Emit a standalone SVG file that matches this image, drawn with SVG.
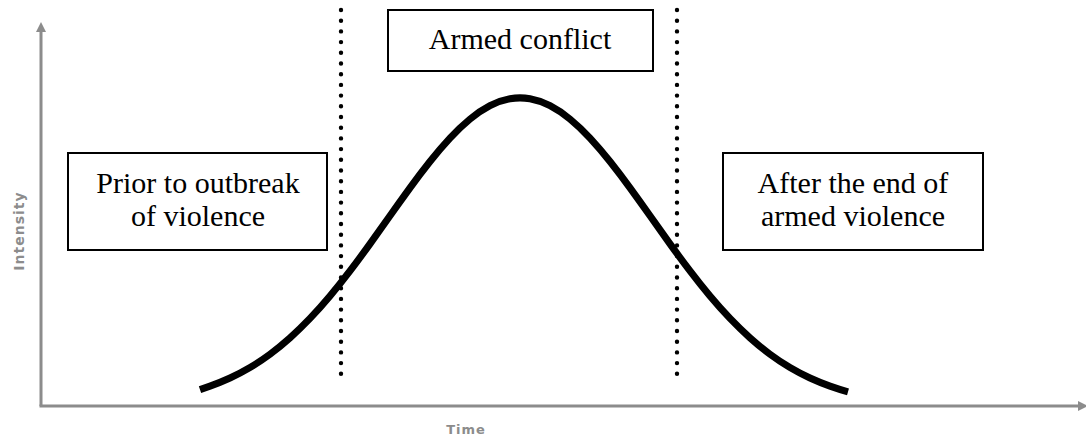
<svg xmlns="http://www.w3.org/2000/svg" width="1086" height="439" viewBox="0 0 1086 439">
<style>
.box{fill:#fff;stroke:#000;stroke-width:2}
.lbl{font-family:"Liberation Serif","Times New Roman",serif;font-size:30px;fill:#000;text-anchor:middle}
.axis{stroke:#8c8c8c;stroke-width:3;fill:none}
.axlbl{font-family:"DejaVu Sans",Verdana,sans-serif;font-weight:bold;fill:#8c8c8c;text-anchor:middle;letter-spacing:1px}
.dot{stroke:#000;stroke-width:4.4;stroke-linecap:round;stroke-dasharray:0 10.7;fill:none}
</style>
<rect width="1086" height="439" fill="#fff"/>
<g id="axes">
<line class="axis" x1="41" y1="406" x2="41" y2="30"/>
<polygon points="41,22 36,32 46,32" fill="#8c8c8c"/>
<line class="axis" x1="39.5" y1="406" x2="1080" y2="406"/>
<polygon points="1088,406 1078,401 1078,411" fill="#8c8c8c"/>
<text class="axlbl" font-size="14" transform="translate(24,231) rotate(-90)">Intensity</text>
<text class="axlbl" font-size="13" x="466" y="434">Time</text>
</g>
<g id="connectors">
<line class="dot" x1="341" y1="10" x2="341" y2="384"/>
<line class="dot" x1="677" y1="10" x2="677" y2="384"/>
<path id="curve" fill="none" stroke="#000" stroke-width="7" stroke-linejoin="round" d="M200,389.6 L210,386.1 Q220,382.6 230,378 Q240,373.4 250,367.5 Q260,361.6 270,354.2 Q280,346.8 290,337.85 Q300,328.9 310,318.45 Q320,308 330,296.05 Q340,284.1 350,270.95 Q360,257.8 370,243.85 Q380,229.9 390,215.75 Q400,201.6 410,187.85 Q420,174.1 430,161.5 Q440,148.9 450,138.1 Q460,127.3 470,119.1 Q480,110.9 490,105.7 Q500,100.5 510,98.75 Q520,97 530,98.75 Q540,100.5 550,105.7 Q560,110.9 570,119.1 Q580,127.3 590,138.1 Q600,148.9 610,161.5 Q620,174.1 630,187.85 Q640,201.6 650,215.75 Q660,229.9 670,243.85 Q680,257.8 690,270.95 Q700,284.1 710,296.05 Q720,308 730,318.45 Q740,328.9 750,337.85 Q760,346.8 770,354.2 Q780,361.6 790,367.5 Q800,373.4 810,378 Q820,382.6 830,386.1 Q840,389.6 848,391.9"/>
</g>
<g id="armed-conflict">
<rect class="box" x="388" y="10" width="265" height="61"/>
<text class="lbl" x="520" y="49">Armed conflict</text>
</g>
<g id="prior">
<rect class="box" x="68" y="153" width="259" height="97"/>
<text class="lbl" x="198" y="193">Prior to outbreak</text>
<text class="lbl" x="198" y="226">of violence</text>
</g>
<g id="after">
<rect class="box" x="723" y="153" width="260" height="97"/>
<text class="lbl" x="853" y="193">After the end of</text>
<text class="lbl" x="853" y="226">armed violence</text>
</g>
</svg>
